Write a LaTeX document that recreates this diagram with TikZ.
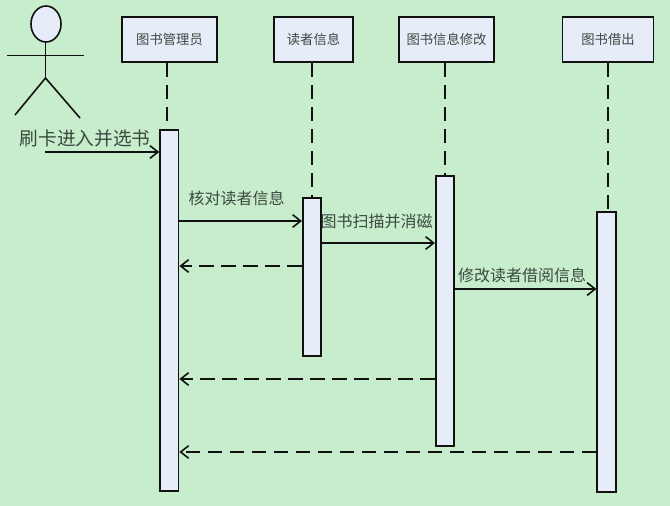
\documentclass[tikz,border=0pt]{standalone}
\usepackage{fontspec}
\setmainfont{Noto Sans CJK SC}
\usetikzlibrary{arrows.meta}
\definecolor{bgc}{HTML}{C7EDCC}
\definecolor{boxc}{HTML}{E6EDF8}
\definecolor{inkc}{HTML}{111111}
\definecolor{textc}{HTML}{3A4A40}
\tikzset{
 x=0.75pt,y=-0.75pt,
 headbox/.style={draw=inkc,fill=boxc,line width=1.2pt,minimum height=33.75pt,inner sep=0pt,text=textc,font=\fontsize{10pt}{11pt}\selectfont},
 actbox/.style={draw=inkc,fill=boxc,line width=1.2pt,minimum width=13.9pt,inner sep=0pt},
 life/.style={draw=inkc,line width=1.2pt,dash pattern=on 11pt off 5.5pt},
 msg/.style={draw=inkc,line width=1.25pt,-{Straight Barb[length=6pt,width=9.5pt,line width=1.2pt]}},
 ret/.style={msg,dash pattern=on 11pt off 5.5pt},
 lbl/.style={text=textc,inner sep=0pt,font=\fontsize{12pt}{14pt}\selectfont},
 lblbig/.style={text=textc,inner sep=0pt,font=\fontsize{14pt}{16pt}\selectfont},
 actor/.style={draw=inkc,line width=1.2pt},
}
\begin{document}
\begin{tikzpicture}
\path[fill=bgc] (0,0) rectangle (670,506);
\useasboundingbox (0,0) rectangle (670,506);
% head boxes
\node[headbox,minimum width=71.25pt] (h1) at (169.5,39.5) {图书管理员};
\node[headbox,minimum width=59.25pt] (h2) at (313.5,39.5) {读者信息};
\node[headbox,minimum width=71.25pt] (h3) at (446.5,39.5) {图书信息修改};
\node[headbox,minimum width=68.5pt] (h4) at (608,39.5) {图书借出};
% activations
\node[actbox,minimum height=270.75pt] (a1) at (169.3,310.5) {};
\node[actbox,minimum height=118.5pt] (a2) at (312,277) {};
\node[actbox,minimum height=202.5pt] (a3) at (445,311) {};
\node[actbox,minimum height=210pt] (a4) at (606.5,352) {};
% lifelines
\coordinate (t1) at (167,130);
\coordinate (t2) at (312,198);
\coordinate (t3) at (445,176);
\coordinate (t4) at (608,212);
\draw[life] (h1.south -| t1) -- (t1);
\draw[life] (h2.south -| t2) -- (t2);
\draw[life] (h3.south -| t3) -- (t3);
\draw[life] (h4.south -| t4) -- (t4);
% actor
\draw[actor,fill=boxc] (46,24) ellipse [x radius=15,y radius=18];
\coordinate (neck) at (45.5,42);
\coordinate (hip) at (45.5,78);
\coordinate (armL) at (7,55.5);
\coordinate (armR) at (84,55.5);
\coordinate (legL) at (15,115);
\coordinate (legR) at (80,118);
\draw[actor] (neck) -- (hip);
\draw[actor] (armL) -- (armR);
\draw[actor] (legL) -- (hip) -- (legR);
% messages
\coordinate (start) at (45,152);
\draw[msg] (start) -- (a1.west |- start);
\coordinate (m2) at (0,221);
\draw[msg] (a1.east |- m2) -- (a2.west |- m2);
\coordinate (m3) at (0,243);
\draw[msg] (a2.east |- m3) -- (a3.west |- m3);
\coordinate (m4) at (0,266);
\draw[ret] (a2.west |- m4) -- (a1.east |- m4);
\coordinate (m5) at (0,289);
\draw[msg] (a3.east |- m5) -- (a4.west |- m5);
\coordinate (m6) at (0,379);
\draw[ret] (a3.west |- m6) -- (a1.east |- m6);
\coordinate (m7) at (0,452);
\draw[ret] (a4.west |- m7) -- (a1.east |- m7);
% labels
\node[lblbig] (l1) at (85,138) {刷卡进入并选书};
\node[lbl] (l2) at (236.5,198) {核对读者信息};
\node[lbl] (l3) at (376.5,221) {图书扫描并消磁};
\node[lbl] (l4) at (522,275) {修改读者借阅信息};
\end{tikzpicture}
\end{document}
